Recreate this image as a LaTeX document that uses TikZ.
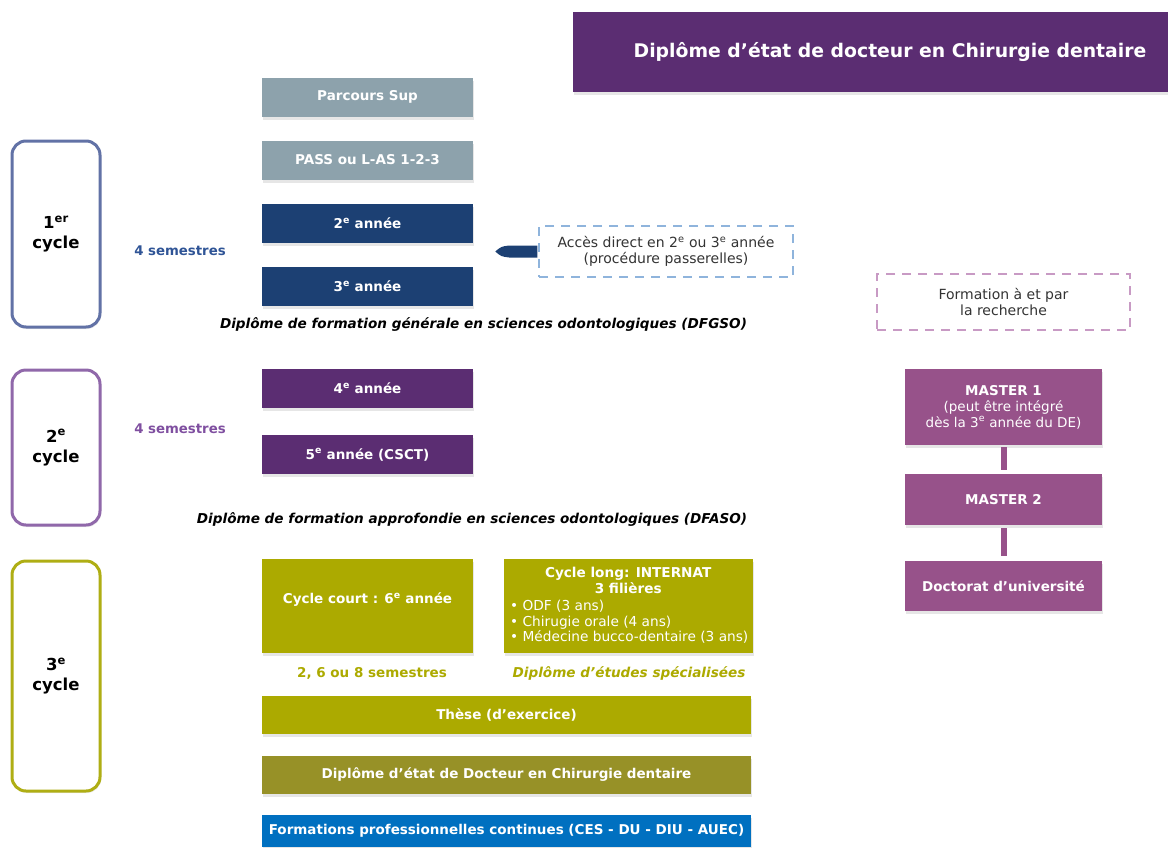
\documentclass[tikz,border=0pt]{standalone}
\usepackage{fontspec}
\setmainfont{DejaVu Sans}
\usepackage{xcolor}
\usepackage{tikz}
\usetikzlibrary{calc, shadows}

\definecolor{titlepurple}{HTML}{5B2D72}
\definecolor{greyblue}{HTML}{8DA2AC}
\definecolor{darkblue}{HTML}{1C4073}
\definecolor{mauve}{HTML}{97528A}
\definecolor{olive}{HTML}{ACAA00}
\definecolor{darkolive}{HTML}{979127}
\definecolor{problue}{HTML}{0070C0}
\definecolor{cycone}{HTML}{6272A6}
\definecolor{cyctwo}{HTML}{9068AA}
\definecolor{cycthree}{HTML}{AFAE14}
\definecolor{semone}{HTML}{2F5496}
\definecolor{semtwo}{HTML}{7F4FA0}
\definecolor{dashblue}{HTML}{8FB4DC}
\definecolor{dashpink}{HTML}{C89AC4}

\tikzset{
  yearbox/.style={rectangle, inner sep=0pt, minimum width=211pt, minimum height=39pt,
    text=white, font=\fontsize{13.5}{16}\selectfont\bfseries,
    drop shadow={shadow xshift=1pt, shadow yshift=-3pt, opacity=0.2}},
  cyclebox/.style={rectangle, rounded corners=14pt, line width=3pt, fill=white,
    inner sep=0pt, minimum width=88pt, align=center,
    font=\fontsize{16.5}{20}\selectfont\bfseries,
    drop shadow={shadow xshift=1pt, shadow yshift=-2pt, opacity=0.15}},
  dashbox/.style={rectangle, line width=1.5pt, dash pattern=on 9pt off 7pt,
    inner sep=0pt, align=center, text=black!80,
    font=\fontsize{14}{16}\selectfont},
  diploma/.style={font=\fontsize{13.6}{16}\selectfont\bfseries\itshape}
}

\begin{document}
\begin{tikzpicture}[x=1pt, y=-1pt]

  \useasboundingbox (0,0) rectangle (1168,847);

  % --- Title ---
  \node[yearbox, fill=titlepurple, minimum width=595pt, minimum height=80pt] (titlebox) at (870.5,52) {};
  \node[text=white, font=\fontsize{18.8}{22}\selectfont\bfseries] (title) at (890,52)
    {Diplôme d’état de docteur en Chirurgie dentaire};

  % --- 1er cycle ---
  \node[cyclebox, draw=cycone, minimum height=186pt] (cyc1) at (56,234) {1\textsuperscript{er}\\cycle};
  \node[yearbox, fill=greyblue] (sup) at (367.5,97) {Parcours Sup};
  \node[yearbox, fill=greyblue] (pass) at (367.5,160) {PASS ou L-AS 1-2-3};
  \node[yearbox, fill=darkblue] (an2) at (367.5,223.5) {2\textsuperscript{e} année};
  \node[yearbox, fill=darkblue] (an3) at (367.5,286.5) {3\textsuperscript{e} année};
  \node[text=semone, font=\fontsize{13.3}{15}\selectfont\bfseries] (sem1) at (180,251) {4 semestres};
  \node[diploma] (dfgso) at (483.5,325)
    {Diplôme de formation générale en sciences odontologiques (DFGSO)};

  % passerelles
  \node[dashbox, draw=dashblue, minimum width=254pt, minimum height=51pt] (acces) at (666,251.5)
    {Accès direct en 2\textsuperscript{e} ou 3\textsuperscript{e} année\\(procédure passerelles)};
  \fill[darkblue] ($(acces.west)+(-1,-6)$) -- ($(acces.west)+(-29,-6)$)
    .. controls ($(acces.west)+(-37,-5)$) .. ($(acces.west)+(-43,0)$)
    .. controls ($(acces.west)+(-37,5)$) .. ($(acces.west)+(-29,6)$)
    -- ($(acces.west)+(-1,6)$) -- cycle;

  % --- 2e cycle ---
  \node[cyclebox, draw=cyctwo, minimum height=155pt] (cyc2) at (56,447.5) {2\textsuperscript{e}\\cycle};
  \node[yearbox, fill=titlepurple] (an4) at (367.5,388.5) {4\textsuperscript{e} année};
  \node[yearbox, fill=titlepurple] (an5) at (367.5,454.5) {5\textsuperscript{e} année (CSCT)};
  \node[text=semtwo, font=\fontsize{13.3}{15}\selectfont\bfseries] (sem2) at (180,429) {4 semestres};
  \node[diploma] (dfaso) at (472,520)
    {Diplôme de formation approfondie en sciences odontologiques (DFASO)};

  % --- 3e cycle ---
  \node[cyclebox, draw=cycthree, minimum height=230pt] (cyc3) at (56,676) {3\textsuperscript{e}\\cycle};
  \node[yearbox, fill=olive, minimum height=94pt] (court) at (367.5,606) {};
  \node[text=white, font=\fontsize{13.5}{16}\selectfont\bfseries] (courttxt) at (367.5,600)
    {Cycle court : 6\textsuperscript{e} année};
  \node[yearbox, fill=olive, minimum width=249pt, minimum height=94pt] (long) at (628.5,606) {};
  \node[text=white, align=left, anchor=north west, inner sep=0pt,
        font=\fontsize{13.7}{15.5}\selectfont] (longtxt) at (510,567)
    {\makebox[236pt]{\fontsize{13.6}{15.5}\selectfont\bfseries Cycle long: INTERNAT}\\
     \makebox[236pt]{\fontsize{13.6}{15.5}\selectfont\bfseries 3 filières}\\[2pt]
     • ODF (3 ans)\\
     • Chirugie orale (4 ans)\\
     • Médecine bucco-dentaire (3 ans)};
  \node[text=olive, font=\fontsize{13.5}{16}\selectfont\bfseries] (semc) at (372,673) {2, 6 ou 8 semestres};
  \node[diploma, text=olive] (des) at (629,673) {Diplôme d’études spécialisées};
  \node[yearbox, fill=olive, minimum width=489pt, minimum height=38pt] (these) at (506.5,715)
    {Thèse (d’exercice)};
  \node[yearbox, fill=darkolive, minimum width=489pt, minimum height=38pt] (dedcd) at (506.5,775)
    {Diplôme d’état de Docteur en Chirurgie dentaire};
  \node[yearbox, fill=problue, minimum width=489pt, minimum height=32pt] (fpc) at (506.5,831)
    {Formations professionnelles continues (CES - DU - DIU - AUEC)};

  % --- Recherche ---
  \node[dashbox, draw=dashpink, minimum width=253pt, minimum height=56pt] (rech) at (1003.5,302)
    {Formation à et par\\la recherche};
  \node[yearbox, fill=mauve, minimum width=197pt, minimum height=76pt, align=center] (m1) at (1003.5,407)
    {MASTER 1\\{\mdseries (peut être intégré}\\{\mdseries dès la 3\textsuperscript{e} année du DE)}};
  \node[yearbox, fill=mauve, minimum width=197pt, minimum height=51pt] (m2) at (1003.5,499.5) {MASTER 2};
  \node[yearbox, fill=mauve, minimum width=197pt, minimum height=50pt] (doct) at (1003.5,586)
    {Doctorat d’université};
  \draw[mauve, line width=6pt, shorten <=2pt, shorten >=4pt] (m1.south) -- (m2.north);
  \draw[mauve, line width=6pt, shorten <=3pt, shorten >=5pt] (m2.south) -- (doct.north);

\end{tikzpicture}
\end{document}
